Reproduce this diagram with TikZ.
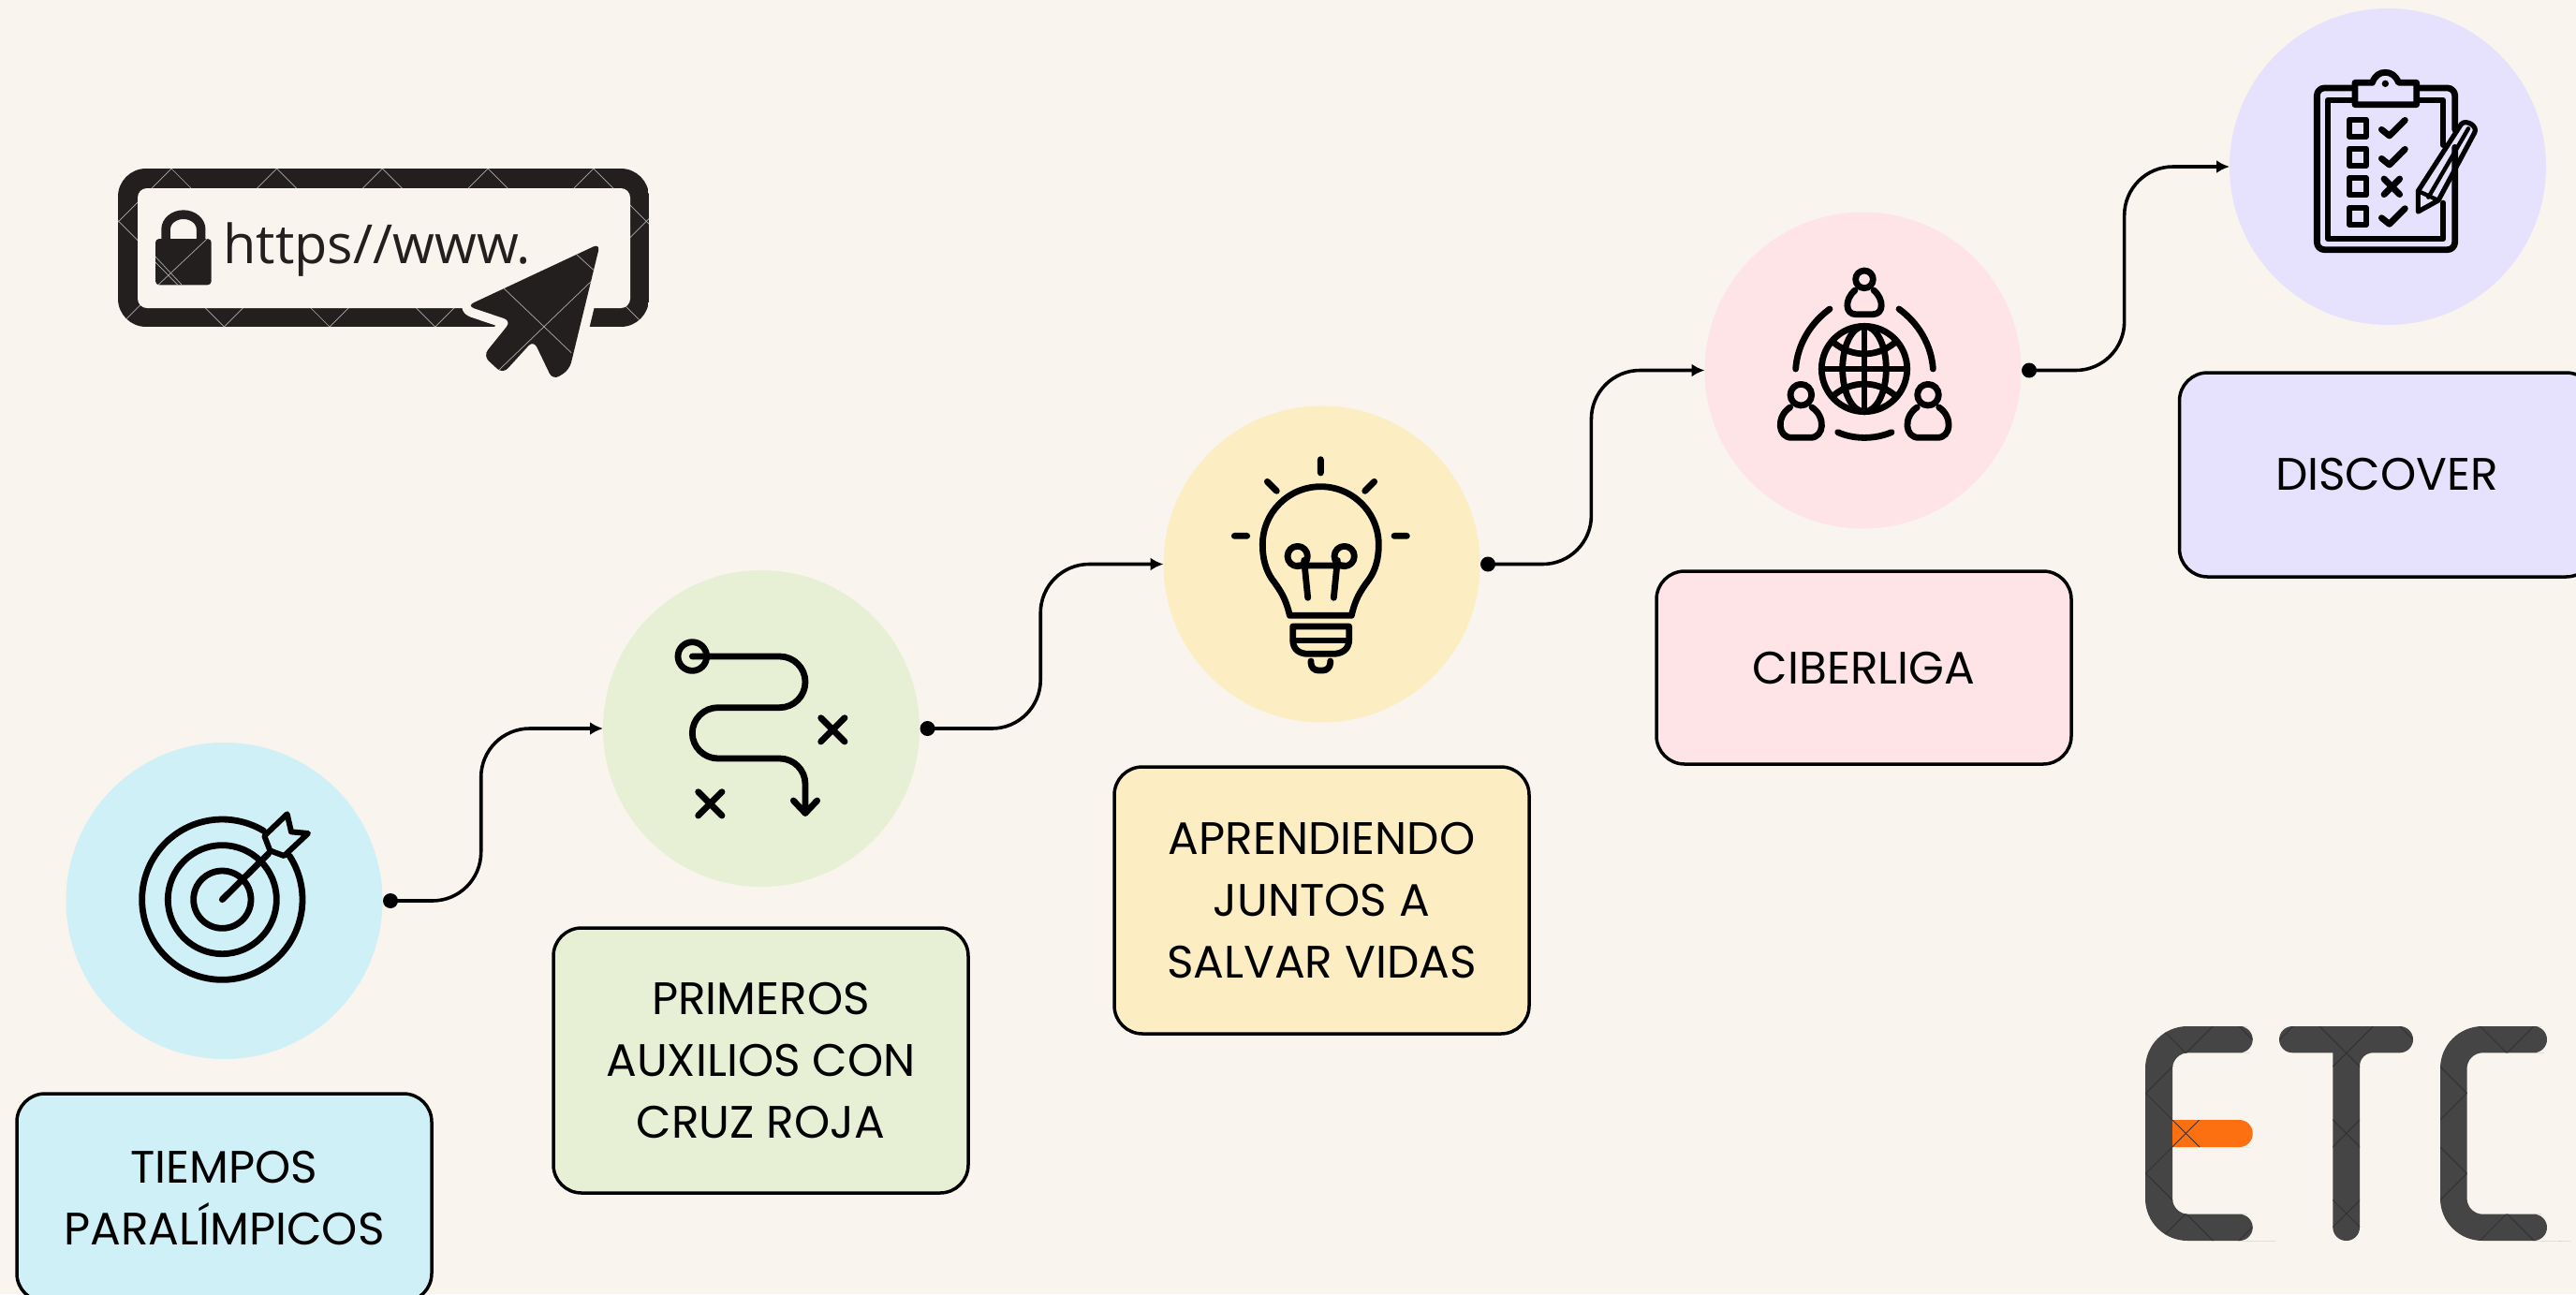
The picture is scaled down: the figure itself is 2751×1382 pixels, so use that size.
\documentclass[tikz,border=0pt]{standalone}
\usepackage{fontspec}
\setmainfont{Poppins}
\newfontfamily\urlfont{Open Sans}
\usetikzlibrary{calc,arrows.meta}
\definecolor{pagebg}{HTML}{F9F4EE}
\definecolor{ccyan}{HTML}{CFF0F7}
\definecolor{cgreen}{HTML}{E7F0D4}
\definecolor{cyellow}{HTML}{FCEDC3}
\definecolor{cpink}{HTML}{FEE4E7}
\definecolor{clav}{HTML}{E6E2FD}
\definecolor{urlblack}{HTML}{231F1E}
\definecolor{etcgrey}{HTML}{454545}
\definecolor{etcorange}{HTML}{FD7012}
\newcommand{\urlhatch}{%
  \foreach \k in {-3,...,7}{
    \draw[urlline] ({183+112.7*\k},180) -- ++(220,220);
    \draw[urlline] ({183+112.7*\k},180) -- ++(-220,220);
  }}
\newcommand{\etchatch}{%
  \foreach \k in {-1,...,8}{
    \draw[etcline] ({3459+85.7*\k-1090},1090) -- ({3459+85.7*\k-1330},1330);
  }
  \foreach \k in {-2,...,6}{
    \draw[etcline] ({1124+85.7*\k+1090},1090) -- ({1124+85.7*\k+1330},1330);
  }}
\tikzset{
  disc/.style={circle,minimum size=169pt,inner sep=0pt,outer sep=0pt,fill=#1},
  label box/.style={draw=black,line width=1.75pt,rounded corners=15pt,fill=#1,
    inner sep=0pt,outer sep=0pt,align=center,font=\fontsize{24.3}{33}\selectfont,text=black},
  nudged/.style={execute at begin node={\vspace*{1.8pt}}},
  dotnode/.style={circle,fill=black,minimum size=8pt,inner sep=0pt,outer sep=0pt},
  conn/.style={draw=black,line width=1.8pt,rounded corners=26pt,-{Latex[length=7pt,width=7pt]}},
  icon/.style={draw=black,line width=3.4pt,line cap=round,line join=round},
  urlline/.style={draw=gray!65,line width=.35pt},
  etcline/.style={draw=black!80,line width=.5pt},
  cshape/.style args={#1/#2/#3/#4}{insert path={
    [rounded corners=22.5pt] (#3-20,1096) -- (#1,1096) -- (#1,1325) -- (#3-20,1325)
    [rounded corners=7.1pt] -- (#3,1325) -- (#3,1296.7) -- (#3-20,1296.7)
    [rounded corners=8.5pt] -- (#2,1296.7) -- (#2,1124.3) -- (#3-20,1124.3)
    [rounded corners=7.1pt] -- (#3,1124.3) -- (#3,1096) -- cycle}},
  tshape/.style={insert path={
    [rounded corners=7.1pt] (2491.3,1124.3) -- (2434,1124.3) -- (2434,1096) -- (2577,1096) -- (2577,1124.3) -- (2520,1124.3)
    [sharp corners] -- (2520,1310) [rounded corners=7.1pt] -- (2520,1325) -- (2491.3,1325) [sharp corners] -- (2491.3,1310) -- cycle}},
  orangebar/.style={insert path={
    (2320,1196) -- (2390,1196) [rounded corners=7.1pt] -- (2405.7,1196) -- (2405.7,1225) -- (2390,1225) [sharp corners] -- (2320,1225) -- cycle}},
  cursorshape/.style={insert path={
    [rounded corners=4pt] (1368,330) -- (1008,530) -- (1128,578) -- (1052,690) -- (1105,748) -- (1188,640) -- (1240,768) -- (1285,735) -- cycle}},
  lockbody/.style={insert path={
    [rounded corners=2pt] (167,315) -- (167,463) -- (318,463) -- (318,315) -- cycle}},
}
\begin{document}
\begin{tikzpicture}[x=.5pt,y=-.5pt]
\useasboundingbox (0,0) rectangle (2751,1382);
\fill[pagebg] (0,0) rectangle (2751,1382);

% URL bar
\begin{scope}
  \clip[rounded corners=15pt] (126,180) rectangle (693,349);
  \fill[urlblack] (126,180) rectangle (693,349);
  \urlhatch
\end{scope}
\fill[pagebg,rounded corners=5pt] (147,201) rectangle (673,329);
\node[anchor=base west,inner sep=0pt,text=urlblack,font=\urlfont\fontsize{28.8}{30}\selectfont] (urltext) at (238,281) {https//www.};
\begin{scope}[shift={(100,150)},xscale=1/2.529,yscale=1/3]
  \fill[urlblack,lockbody];
  \draw[urlblack,line width=4.8pt] (195,325) -- (195,285) arc[start angle=180,end angle=360,radius=47.5] -- (290,325);
  \begin{scope}
    \clip[lockbody];
    \draw[urlline] (125,340) -- (250,490);
    \draw[urlline] (150,490) -- (320,300);
    \draw[urlline] (165,370) -- (240,465);
  \end{scope}
  \draw[pagebg,line width=10pt,line join=round,cursorshape];
  \fill[urlblack,cursorshape];
  \begin{scope}
    \clip[cursorshape];
    \draw[urlline] (1100,465) -- (1290,680);
    \draw[urlline] (1295,355) -- (1350,415);
    \draw[urlline] (1345,450) -- (1095,735);
  \end{scope}
\end{scope}

% Discs
\node[disc=ccyan] (c1) at (239.5,962) {};
\node[disc=cgreen] (c2) at (813,778) {};
\node[disc=cyellow] (c3) at (1411.5,602.5) {};
\node[disc=cpink] (c4) at (1989.5,395.5) {};
\node[disc=clav] (c5) at (2550,178) {};

% Boxes
\node[label box=ccyan,minimum width=221.5pt,minimum height=111pt] (b1) at (239.5,1279) {TIEMPOS\\PARALÍMPICOS};
\node[label box=cgreen,nudged,minimum width=221.5pt,minimum height=141.5pt] (b2) at (812.5,1132.5) {PRIMEROS\\AUXILIOS CON\\CRUZ ROJA};
\node[label box=cyellow,nudged,minimum width=221.5pt,minimum height=142.5pt] (b3) at (1411.5,961.5) {APRENDIENDO\\JUNTOS A\\SALVAR VIDAS};
\node[label box=cpink,minimum width=221.5pt,minimum height=103pt] (b4) at (1990.5,713) {CIBERLIGA};
\node[label box=clav,nudged,minimum width=221.5pt,minimum height=109pt] (b5) at (2549,507) {DISCOVER};

% Connectors
\node[dotnode] (d1) at ($(c1.east)+(8.5,0)$) {};
\node[dotnode] (d2) at ($(c2.east)+(8.5,0)$) {};
\node[dotnode] (d3) at ($(c3.east)+(8.5,0)$) {};
\node[dotnode] (d4) at ($(c4.east)+(8.5,0)$) {};
\coordinate (m1) at ($(d1.center)!.426!(c2.west)$);
\coordinate (m2) at ($(d2.center)!.479!(c3.west)$);
\coordinate (m3) at ($(d3.center)!.477!(c4.west)$);
\coordinate (m4) at ($(d4.center)!.475!(c5.west)$);
\draw[conn] (d1.center) -- (m1 |- d1.center) -- (m1 |- c2.west) -- (c2.west);
\draw[conn] (d2.center) -- (m2 |- d2.center) -- (m2 |- c3.west) -- (c3.west);
\draw[conn] (d3.center) -- (m3 |- d3.center) -- (m3 |- c4.west) -- (c4.west);
\draw[conn] (d4.center) -- (m4 |- d4.center) -- (m4 |- c5.west) -- (c5.west);

% Target icon
\begin{scope}[shift={(120,840)},scale=1/3]
  \draw[icon] (352,362) circle[radius=92];
  \draw[icon] (352,362) circle[radius=174];
  \draw[icon] ({352+257*cos(33)},{362-257*sin(33)}) arc[start angle=-33,end angle=301,radius=257];
  \draw[icon] (352,362) -- (500,215);
  \draw[icon,line width=3pt] (487,158) -- (560,88) -- (573,145) -- (627,150) -- (550,222) -- (505,205) -- cycle;
\end{scope}

% Route icon
\begin{scope}[shift={(690,660)},scale=1/3]
  \draw[icon] (148,123) circle[radius=46];
  \draw[icon,rounded corners=13.7pt] (148,123) -- (510,123) -- (510,287) -- (148,287) -- (148,450) -- (510,450) -- (510,625);
  \draw[icon] (472,585) -- (510,625) -- (548,585);
  \draw[icon] (560,320) -- (636,396) (636,320) -- (560,396);
  \draw[icon] (167,557) -- (243,633) (243,557) -- (167,633);
\end{scope}

% Bulb icon
\begin{scope}[shift={(1290,470)},scale=1/3]
  \draw[icon] (361,62) -- (361,105) (190,133) -- (220,163) (533,133) -- (503,163) (85,307) -- (125,307) (597,307) -- (637,307);
  \draw[icon] (262,562) .. controls (250,510) and (235,485) .. (205,445) .. controls (185,415) and (175,380) .. (175,335)
    arc[start angle=180,end angle=360,radius=186]
    .. controls (547,380) and (537,415) .. (517,445) .. controls (487,485) and (472,510) .. (460,562) -- cycle;
  \draw[icon] (287,372) circle[radius=32] (437,372) circle[radius=32];
  \draw[icon] (320,505) -- (308,385) (403,505) -- (415,385) (287,402) -- (437,402);
  \draw[icon] (272,597) -- (452,597) -- (452,640) .. controls (452,670) and (430,685) .. (400,685) -- (322,685) .. controls (292,685) and (272,670) .. (272,640) -- cycle;
  \draw[icon] (275,642) -- (450,642);
  \draw[icon,rounded corners=4pt] (330,708) -- (330,738) -- (392,738) -- (392,708);
\end{scope}

% Globe and people icon
\begin{scope}[shift={(1880,270)},scale=1/3]
  \draw[icon] (333,372) circle[radius=137];
  \draw[icon] (333,372) ellipse[x radius=70,y radius=137];
  \draw[icon] (333,235) -- (333,509) (196,372) -- (470,372);
  \draw[icon] (238,290) .. controls (295,335) and (371,335) .. (428,290);
  \draw[icon] (238,454) .. controls (295,409) and (371,409) .. (428,454);
  \draw[icon] (333,85) circle[radius=28];
  \draw[icon] (303,120) .. controls (268,150) and (272,197) .. (305,197) -- (361,197) .. controls (394,197) and (398,150) .. (363,120);
  \draw[icon] (130,455) circle[radius=34];
  \draw[icon] (95,495) .. controls (50,525) and (55,592) .. (100,592) -- (160,592) .. controls (205,592) and (210,525) .. (165,495);
  \draw[icon] (537,455) circle[radius=34];
  \draw[icon] (502,495) .. controls (457,525) and (462,592) .. (507,592) -- (567,592) .. controls (612,592) and (617,525) .. (572,495);
  \draw[icon] (113,372) .. controls (118,295) and (160,225) .. (222,180);
  \draw[icon] (553,372) .. controls (548,295) and (506,225) .. (444,180);
  \draw[icon] (248,575) .. controls (300,598) and (366,598) .. (420,575);
\end{scope}

% Clipboard icon
\begin{scope}[shift={(2450,60)},scale=1/3]
  \draw[icon,rounded corners=4pt] (190,102) -- (73,102) -- (73,620) -- (515,620) -- (515,292);
  \draw[icon,rounded corners=4pt] (515,235) -- (515,102) -- (395,102);
  \draw[icon,line width=3pt] (190,140) -- (108,140) -- (108,585) -- (478,585) -- (478,470);
  \draw[icon,line width=3pt] (478,285) -- (478,140) -- (395,140);
  \draw[icon] (195,85) -- (250,85) .. controls (260,60) and (275,52) .. (292,52) .. controls (309,52) and (324,60) .. (335,85) -- (392,85) -- (392,155) -- (195,155) -- cycle;
  \fill[black] (292,88) circle[radius=11];
  \foreach \yy in {230,323,418,513}{
    \draw[icon,line width=3pt] (177,\yy-27) rectangle (231,\yy+27);
  }
  \foreach \yy in {230,323,513}{
    \draw[icon] (280,\yy+5) -- (305,\yy+25) -- (355,\yy-25);
  }
  \draw[icon] (288,393) -- (338,443) (338,393) -- (288,443);
  \draw[icon,line width=2.6pt] (397,498) -- (397,432) -- (535,218) .. controls (550,200) and (590,225) .. (578,245) -- (462,462) -- cycle;
  \draw[icon,line width=2.2pt] (430,452) -- (558,232);
  \draw[icon,line width=2.2pt] (397,432) -- (462,462);
\end{scope}

% ETC logo
\fill[etcgrey,cshape=2291/2320/2405.7/];
\fill[etcgrey,cshape=2606/2634.5/2720/];
\fill[etcgrey,tshape];
\fill[etcorange,orangebar];
\begin{scope}
  \clip[cshape=2291/2320/2405.7/];
  \etchatch
\end{scope}
\begin{scope}
  \clip[cshape=2606/2634.5/2720/];
  \etchatch
\end{scope}
\begin{scope}
  \clip[tshape];
  \etchatch
\end{scope}
\begin{scope}
  \clip[orangebar];
  \etchatch
\end{scope}
\end{tikzpicture}
\end{document}
